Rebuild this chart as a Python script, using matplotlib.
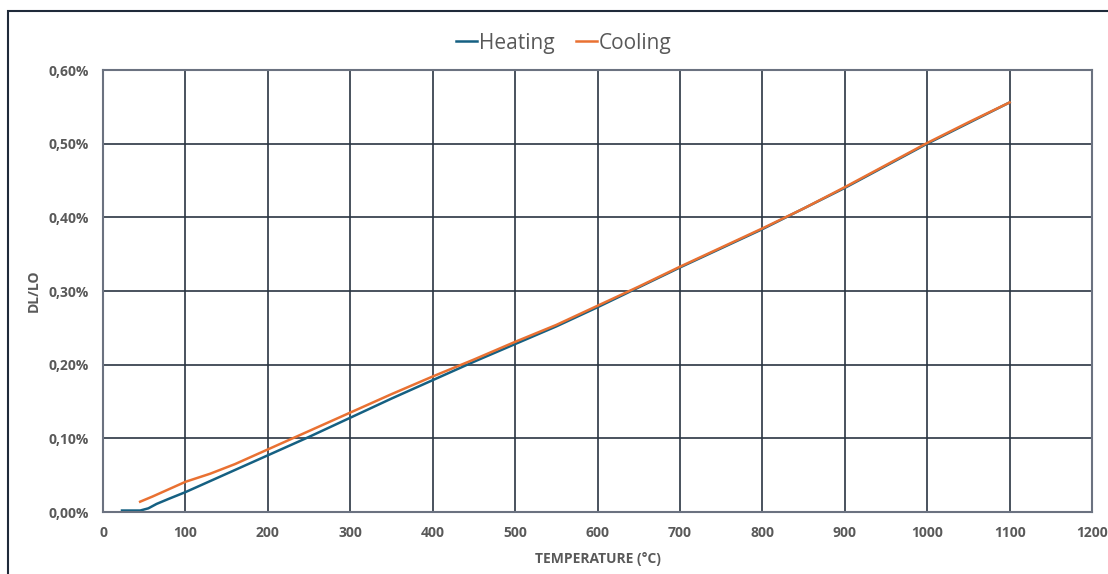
import matplotlib
matplotlib.use('Agg')
import matplotlib.pyplot as plt
from matplotlib.patches import Rectangle
from matplotlib.ticker import FuncFormatter

plt.rcParams['font.family'] = ['Open Sans', 'DejaVu Sans']

# Dilatación térmica (DL/LO en %)
heat_T = [23, 35, 45, 55, 65, 80, 100, 150, 200, 250, 300, 350, 400, 450, 500,
          550, 600, 650, 700, 750, 800, 850, 900, 950, 1000, 1050, 1100]
heat_dl = [0.002, 0.002, 0.002, 0.005, 0.011, 0.018, 0.027, 0.052, 0.077, 0.102,
           0.128, 0.154, 0.179, 0.204, 0.228, 0.252, 0.278, 0.305, 0.332, 0.358,
           0.384, 0.412, 0.440, 0.470, 0.500, 0.528, 0.556]

cool_T = [45, 60, 80, 100, 130, 160, 200, 250, 300, 350, 400, 450, 500, 550, 600,
          650, 700, 750, 800, 850, 900, 950, 1000, 1050, 1100]
cool_dl = [0.014, 0.021, 0.031, 0.041, 0.052, 0.065, 0.085, 0.110, 0.135, 0.160,
           0.184, 0.207, 0.231, 0.254, 0.280, 0.306, 0.333, 0.359, 0.385, 0.412,
           0.441, 0.471, 0.501, 0.529, 0.556]

x_ticks = list(range(0, 1201, 100))
y_ticks = [0.0, 0.1, 0.2, 0.3, 0.4, 0.5, 0.6]

fig = plt.figure(figsize=(11.08, 5.74), dpi=100)
ax = fig.add_axes([0.093, 0.108, 0.8926, 0.770])

ax.plot(heat_T, heat_dl, color='#156082', lw=1.8, label='Heating')
ax.plot(cool_T, cool_dl, color='#E97132', lw=1.8, label='Cooling')

ax.set_xlim(0, 1200)
ax.set_ylim(0, 0.6)
ax.set_xticks(x_ticks)
ax.set_yticks(y_ticks)
ax.yaxis.set_major_formatter(FuncFormatter(lambda v, p: f'{v:.2f}%'.replace('.', ',')))
ax.grid(True, color='#2a3542', lw=1.2)
ax.set_axisbelow(True)
ax.tick_params(length=0, pad=10, labelsize=10, labelcolor='#595959')
for lab in ax.get_xticklabels() + ax.get_yticklabels():
    lab.set_fontweight('bold')
for s in ax.spines.values():
    s.set_color('#6b7280')
    s.set_linewidth(1.5)

ax.set_xlabel('TEMPERATURE (°C)', fontsize=10, fontweight='bold', color='#595959', labelpad=9)
ax.set_ylabel('DL/LO', fontsize=10, fontweight='bold', color='#595959', labelpad=6)

fig.legend(loc='center', bbox_to_anchor=(0.509, 0.925), ncol=2, frameon=False,
           fontsize=15, handlelength=1.0, handletextpad=0.1, columnspacing=1.0,
           labelcolor='#595959')

# marco exterior
fig.add_artist(Rectangle((8 / 1108, -0.1), 1.2, 1 - 11 / 574 + 0.1, fill=False,
                         ec='#1f2a3a', lw=1.5, transform=fig.transFigure))

fig.savefig('out.png', dpi=100)
